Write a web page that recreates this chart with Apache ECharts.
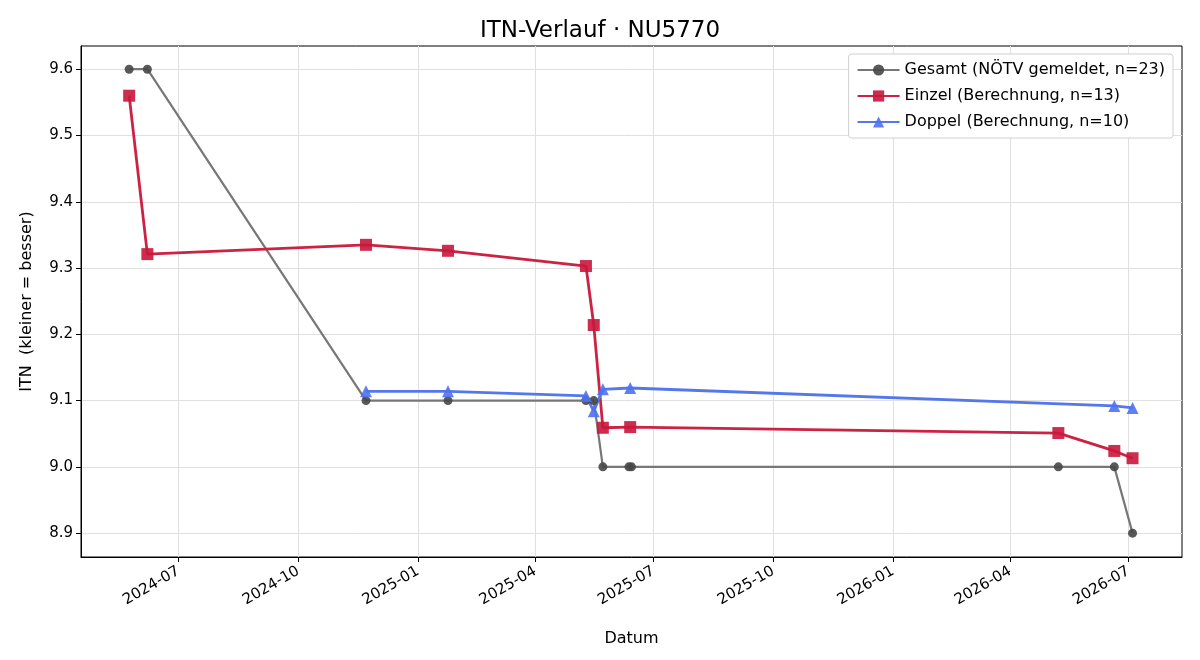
<!DOCTYPE html>
<html>
<head>
<meta charset="utf-8">
<script src="https://cdn.jsdelivr.net/npm/echarts@6/dist/echarts.min.js"></script>
<style>
  html, body { margin: 0; padding: 0; background: #fff; }
  #itn { width: 1200px; height: 660px; }
</style>
</head>
<body>
<div id="itn"></div>
<script>
  // Gesamt (gemeldet)
  const gesamtDates = ['2024-05-24', '2024-06-07', '2024-11-22', '2025-01-24', '2025-05-10', '2025-05-16',
    '2025-05-23', '2025-06-12', '2025-06-14', '2026-05-08', '2026-06-20', '2026-07-04'];
  const gesamtValues = [9.6, 9.6, 9.1, 9.1, 9.1, 9.1, 9.0, 9.0, 9.0, 9.0, 9.0, 8.9];

  // Einzel (Berechnung)
  const einzelDates = ['2024-05-24', '2024-06-07', '2024-11-22', '2025-01-24', '2025-05-10', '2025-05-16',
    '2025-05-23', '2025-06-13', '2026-05-08', '2026-06-20', '2026-07-04'];
  const einzelValues = [9.56, 9.321, 9.335, 9.326, 9.303, 9.214, 9.059, 9.060, 9.051, 9.024, 9.013];

  // Doppel (Berechnung)
  const doppelDates = ['2024-11-22', '2025-01-24', '2025-05-10', '2025-05-16', '2025-05-23', '2025-06-13',
    '2026-06-20', '2026-07-04'];
  const doppelValues = [9.114, 9.114, 9.107, 9.084, 9.117, 9.119, 9.092, 9.089];

  const xTicks = ['2024-07-01', '2024-10-01', '2025-01-01', '2025-04-01', '2025-07-01',
    '2025-10-01', '2026-01-01', '2026-04-01', '2026-07-01'];
  const yTicks = [8.9, 9.0, 9.1, 9.2, 9.3, 9.4, 9.5, 9.6];

  const ts = s => new Date(s + 'T00:00:00Z').getTime();
  const pairs = (d, v) => d.map((x, i) => [ts(x), v[i]]);
  const xTickTs = xTicks.map(ts);

  let myChart = echarts.init(document.getElementById('itn'));
  const font = 'DejaVu Sans';
  myChart.setOption({
    animation: false,
    textStyle: {fontFamily: font},
    title: {
      text: 'ITN-Verlauf · NU5770',
      left: 'center',
      top: 15,
      textStyle: {fontSize: 23, fontWeight: 'normal', color: '#000', fontFamily: font}
    },
    grid: {
      left: 81, right: 18, top: 46, bottom: 103,
      show: true, borderColor: '#000', borderWidth: 1
    },
    xAxis: {
      type: 'value',
      min: ts('2024-04-17'),
      max: ts('2026-08-11'),
      name: 'Datum',
      nameLocation: 'middle',
      nameGap: 74,
      nameTextStyle: {fontSize: 16, color: '#000'},
      axisLine: {lineStyle: {color: '#000'}},
      axisTick: {show: true, customValues: xTickTs, length: 5, lineStyle: {color: '#000'}},
      axisLabel: {
        customValues: xTickTs,
        rotate: 30,
        fontSize: 15,
        color: '#000',
        margin: 13,
        formatter: v => {
          const d = new Date(v);
          return d.getUTCFullYear() + '-' + String(d.getUTCMonth() + 1).padStart(2, '0');
        }
      },
      splitLine: {show: true, lineStyle: {color: '#e0e0e0'}}
    },
    yAxis: {
      type: 'value',
      min: 8.864,
      max: 9.635,
      name: 'ITN  (kleiner = besser)',
      nameLocation: 'middle',
      nameGap: 46,
      nameTextStyle: {fontSize: 16, color: '#000'},
      axisLine: {show: true, lineStyle: {color: '#000'}},
      axisTick: {show: true, customValues: yTicks, length: 5, lineStyle: {color: '#000'}},
      axisLabel: {customValues: yTicks, fontSize: 15, color: '#000', formatter: v => v.toFixed(1)},
      splitLine: {show: true, lineStyle: {color: '#e0e0e0'}}
    },
    legend: {
      orient: 'vertical',
      right: 27,
      top: 54,
      itemGap: 10,
      itemWidth: 42,
      itemHeight: 14,
      padding: [8, 8, 8, 8],
      borderColor: '#d0d0d0',
      borderWidth: 1,
      borderRadius: 3,
      backgroundColor: '#fff',
      textStyle: {fontSize: 16, color: '#000'},
      data: ['Gesamt (NÖTV gemeldet, n=23)', 'Einzel (Berechnung, n=13)', 'Doppel (Berechnung, n=10)']
    },
    series: [
      {
        name: 'Gesamt (NÖTV gemeldet, n=23)',
        type: 'line',
        data: pairs(gesamtDates, gesamtValues),
        symbol: 'circle',
        symbolSize: 9,
        lineStyle: {color: '#777777', width: 2.2},
        itemStyle: {color: '#474747', opacity: 0.9}
      },
      {
        name: 'Einzel (Berechnung, n=13)',
        type: 'line',
        data: pairs(einzelDates, einzelValues),
        symbol: 'rect',
        symbolSize: 12,
        lineStyle: {color: '#cc2244', width: 2.8},
        itemStyle: {color: '#c8173c', opacity: 0.9}
      },
      {
        name: 'Doppel (Berechnung, n=10)',
        type: 'line',
        data: pairs(doppelDates, doppelValues),
        symbol: 'triangle',
        symbolSize: 12,
        lineStyle: {color: '#5577ee', width: 2.8},
        itemStyle: {color: '#4f72f0', opacity: 0.9}
      }
    ]
  });
</script>
</body>
</html>
